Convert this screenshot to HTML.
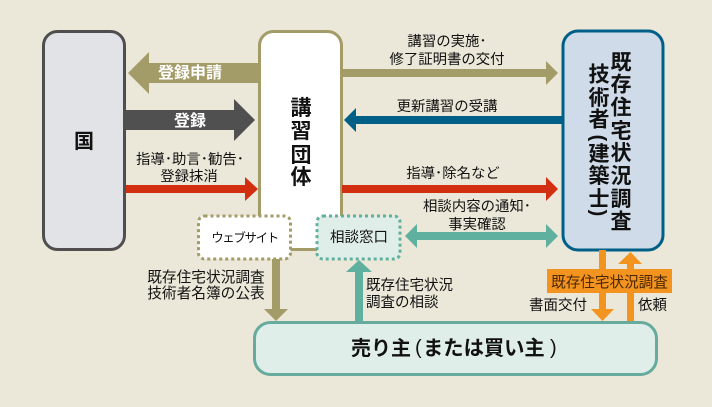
<!DOCTYPE html>
<html lang="ja">
<head>
<meta charset="utf-8">
<style>
html,body{margin:0;padding:0;background:#ece8d9;width:712px;height:407px;overflow:hidden}
svg{display:block}
text{font-family:"Liberation Sans","Noto Sans CJK JP",sans-serif;fill:#111}
.s{font-size:14.4px;text-anchor:middle}
.l{font-size:14.5px;text-anchor:start}
.b{font-weight:700;text-anchor:middle}
.w{font-size:16px;font-weight:700;fill:#fff;text-anchor:middle}
</style>
</head>
<body>
<svg width="712" height="407" viewBox="0 0 712 407" xmlns="http://www.w3.org/2000/svg">
<rect width="712" height="407" fill="#ece8d9"/>

<rect x="259.500" y="31.500" width="82" height="218" rx="14" fill="#fff" stroke="#a39b68" stroke-width="3"/>

<!-- connectors -->
<polygon points="258,63 149,63 149,52 128,73 149,94 149,83 258,83" fill="#a39b68"/>
<polygon points="126,110 234,110 234,99 255,120 234,141 234,130 126,130" fill="#505050"/>
<polygon points="126,185 245,185 245,177 258,189 245,201 245,193 126,193" fill="#d22f10"/>
<polygon points="342,69 546,69 546,61 558,73 546,85 546,77 342,77" fill="#a39b68"/>
<polygon points="562,116 356,116 356,108 344,120 356,132 356,124 562,124" fill="#005f87"/>
<polygon points="342,185 546,185 546,177 558,189 546,201 546,193 342,193" fill="#d22f10"/>
<polygon points="405,236 417,224 417,232 546,232 546,224 558,236 546,248 546,240 417,240 417,248" fill="#5fb09f"/>
<polygon points="272,259 280,259 280,309 288,309 276,321 264,309 272,309" fill="#a39b68"/>
<polygon points="355,323 363,323 363,272 372,272 359,260 346,272 355,272" fill="#5fb09f"/>

<!-- boxes -->
<rect x="43.500" y="31.500" width="81" height="218" rx="14" fill="#e2e3e6" stroke="#4f4f4f" stroke-width="3"/>
<rect x="563" y="31" width="100" height="219" rx="15" fill="#cfdbe8" stroke="#005f87" stroke-width="3"/>

<rect x="198.500" y="216" width="92" height="43" rx="6" fill="#fff" stroke="#a39b68" stroke-width="3" stroke-dasharray="3 3"/>
<rect x="317" y="216" width="83" height="43" rx="6" fill="#e0eee9" stroke="#5fb09f" stroke-width="3" stroke-dasharray="3 3"/>
<rect x="291" y="248" width="25" height="3" fill="#a39b68"/>

<!-- orange -->
<polygon points="599,250 606,250 606,309 614,309 602.500,321 591,309 599,309" fill="#f39320"/>
<polygon points="627,323 634,323 634,264 642,264 630.500,252 618,264 627,264" fill="#f39320"/>
<rect x="547" y="269" width="125" height="24" fill="#f39320"/>

<rect x="254.500" y="322.500" width="402" height="52" rx="16" fill="#e0eee9" stroke="#66ab9d" stroke-width="3"/>

<!-- big labels -->
<text class="b" x="84" y="148" font-size="20">国</text>
<text class="b" x="301" y="115" font-size="21">講</text>
<text class="b" x="301" y="138" font-size="21">習</text>
<text class="b" x="301" y="162" font-size="21">団</text>
<text class="b" x="301" y="184" font-size="21">体</text>

<text class="b" x="621" y="69.500" font-size="21">既</text>
<text class="b" x="621" y="91.500" font-size="21">存</text>
<text class="b" x="621" y="114.500" font-size="21">住</text>
<text class="b" x="621" y="138" font-size="21">宅</text>
<text class="b" x="621" y="160" font-size="21">状</text>
<text class="b" x="621" y="183" font-size="21">況</text>
<text class="b" x="621" y="206" font-size="21">調</text>
<text class="b" x="621" y="228.500" font-size="21">査</text>

<text class="b" x="599" y="81.500" font-size="21">技</text>
<text class="b" x="599" y="105" font-size="21">術</text>
<text class="b" x="599" y="126.500" font-size="21">者</text>
<text class="b" x="599" y="161" font-size="21">建</text>
<text class="b" x="599" y="183" font-size="21">築</text>
<text class="b" x="599" y="206" font-size="21">士</text>
<text class="b" font-size="20" transform="rotate(90 599 138)" x="599" y="145" style="font-family:'Liberation Sans',sans-serif">(</text>
<text class="b" font-size="20" transform="rotate(90 599 213)" x="599" y="220" style="font-family:'Liberation Sans',sans-serif">)</text>

<text x="351" y="355" font-size="20" font-weight="700">売り主</text>
<text x="415" y="354" font-size="20" style="font-family:'Liberation Sans',sans-serif">(</text>
<text x="423" y="355" font-size="20.300" font-weight="700">または買い主</text>
<text x="550" y="354" font-size="20" style="font-family:'Liberation Sans',sans-serif">)</text>

<!-- arrow labels -->
<text class="w" x="190" y="78">登録申請</text>
<text class="w" x="190" y="126">登録</text>

<text class="s" x="190" y="164">指導･助言･勧告･</text>
<text class="s" x="189" y="181">登録抹消</text>

<text class="s" x="447" y="46">講習の実施･</text>
<text class="s" x="447" y="64">修了証明書の交付</text>
<text class="s" x="447" y="111">更新講習の受講</text>
<text class="s" x="453" y="178">指導･除名など</text>
<text class="s" x="477" y="211">相談内容の通知･</text>
<text class="s" x="477" y="229">事実確認</text>

<text x="244.500" y="242" font-size="12.500" letter-spacing="-1.400" text-anchor="middle">ウェブサイト</text>
<text x="359" y="242" font-size="14.500" text-anchor="middle">相談窓口</text>

<text class="s" x="206" y="282" style="font-size:14.700px">既存住宅状況調査</text>
<text class="s" x="206" y="298" style="font-size:14.700px">技術者名簿の公表</text>

<text class="l" x="366" y="290">既存住宅状況</text>
<text class="l" x="366" y="307">調査の相談</text>

<text class="l" x="529" y="310">書面交付</text>
<text class="l" x="638" y="310">依頼</text>
<text x="609.500" y="287" font-size="14.600" text-anchor="middle" style="fill:#4a2600">既存住宅状況調査</text>
</svg>
</body>
</html>
